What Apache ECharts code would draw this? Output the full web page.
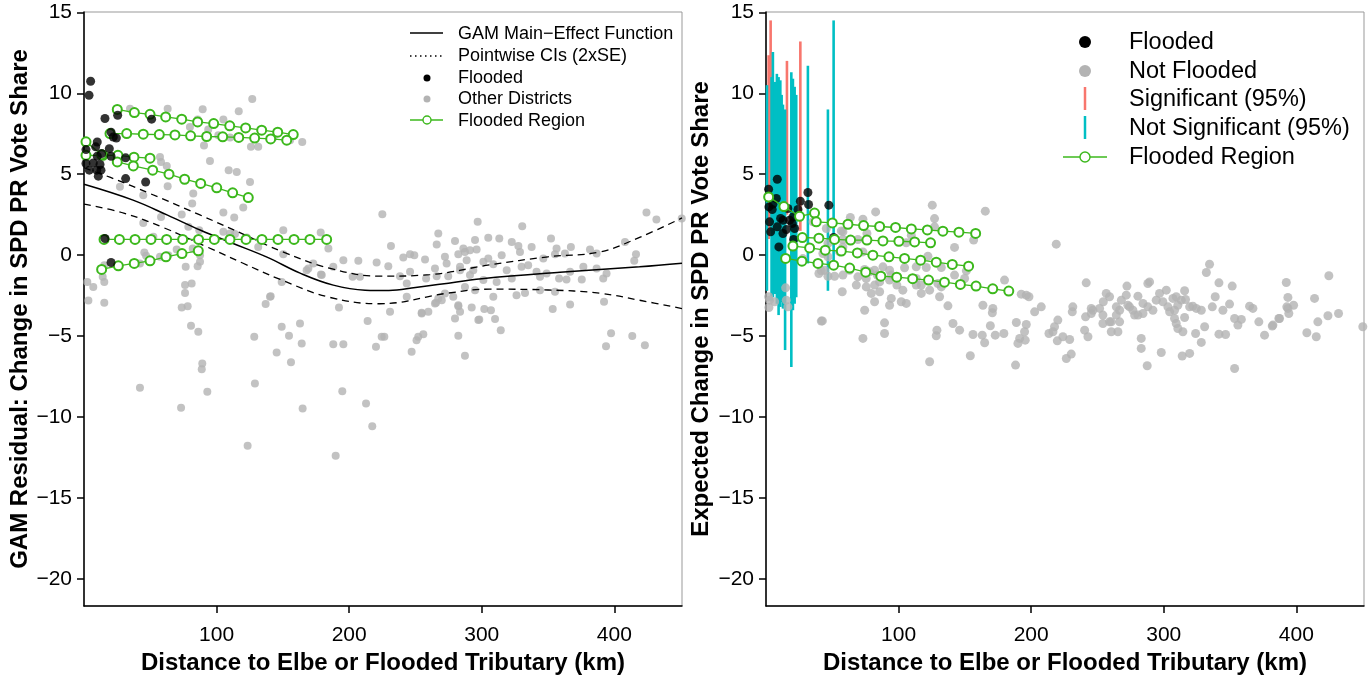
<!DOCTYPE html>
<html lang="en">
<head>
  <meta charset="UTF-8">
  <title>Flooding and SPD vote share</title>
  <style>
    html, body { margin: 0; padding: 0; background: #fff; }
    #main { width: 1371px; height: 676px; }
  </style>
</head>
<body>
  <div id="main"></div>
  <script src="https://cdn.jsdelivr.net/npm/echarts@6.0.0/dist/echarts.min.js"></script>
  <script type="text/javascript">

    var xTicks = [100, 200, 300, 400];
    var yTicks = [-20, -15, -10, -5, 0, 5, 10, 15];

    // left panel: GAM fit and pointwise bands
    var gamX = [0, 37, 63, 88, 112, 138, 163, 188, 212, 230, 250, 270, 300, 359, 419, 451];
    var gamY = [4.38, 3.40, 2.47, 1.54, 0.74, -0.12, -1.11, -1.85, -2.16, -2.18, -2.0, -1.78, -1.45, -1.05, -0.72, -0.50];
    var ciUpX = [0, 20, 50, 87, 120, 150, 185, 223, 261, 306, 350, 389, 419, 451];
    var ciUpY = [5.4, 4.8, 3.8, 2.5, 1.3, 0.2, -0.8, -1.3, -1.2, -0.6, -0.1, 0.2, 1.1, 2.3];
    var ciLoX = [0, 30, 60, 93, 120, 148, 185, 223, 274, 306, 350, 389, 420, 451];
    var ciLoY = [3.15, 2.6, 1.7, 0.5, -0.5, -1.5, -2.6, -3.0, -2.35, -2.1, -2.15, -2.35, -2.8, -3.3];

    var leftOther = [
      [34.7,9.05],[63.1,9.05],[89.5,9.01],[116.7,8.89],[126.9,9.65],[85.7,8.38],[105.1,8.38],[79.9,7.92],
      [93.7,7.76],[101.3,7.41],[110.1,7.27],[142.8,7.27],[155.4,7.10],[164.6,6.99],[90.5,6.77],[125.9,6.69],
      [131.4,6.69],[57.3,6.07],[58.1,5.76],[95.0,5.82],[62.4,5.51],[109.1,5.25],[115.2,5.14],[27.1,4.22],
      [63.1,4.26],[75.6,4.75],[125.2,4.52],[82.4,3.81],[44.7,3.70],[81.6,3.19],[120.1,2.94],[58.1,2.36],
      [73.7,2.51],[105.1,2.64],[113.3,2.33],[44.7,1.99],[78.7,1.75],[86.9,1.54],[52.3,1.13],[110.1,1.34],
      [122.7,1.09],[150.3,1.54],[178.5,1.40],[184.3,0.41],[131.4,0.51],[45.5,0.17],[46.8,-0.04],[57.3,-0.10],
      [63.6,0.0],[69.9,0.35],[82.0,0.41],[87.5,0.0],[87.5,-0.41],[85.7,-0.68],[76.7,-0.72],[42.2,-0.51],
      [15.3,-0.62],[2.5,-1.65],[7.0,-1.96],[15.3,-1.65],[14.1,-1.34],[76.2,-1.85],[81.2,-1.75],[76.2,-2.33],
      [149.1,-1.65],[172.9,-0.51],[188.0,-0.72],[195.6,-0.31],[178.7,-1.19],[167.9,-0.93],[140.8,-2.53],[3.3,-2.8],
      [15.3,-2.94],[73.7,-3.23],[78.2,-3.15],[80.7,-4.36],[86.2,-4.73],[128.4,-5.04],[137.0,-3.02],[149.1,-4.42],
      [154.6,-4.98],[145.3,-6.01],[156.1,-6.62],[162.9,-4.22],[164.2,-5.45],[188.0,-5.51],[195.6,-5.51],[192.3,-3.23],
      [89.2,-6.69],[88.8,-7.04],[42.2,-8.19],[93.0,-8.44],[73.2,-9.43],[128.9,-7.92],[164.9,-9.47],[123.4,-11.77],
      [194.8,-8.40],[189.8,-12.39],[213.9,-4.07],[230.8,-3.50],[254.7,-3.56],[259.7,-3.50],[265.5,-2.94],[269.8,-2.78],
      [282.3,-3.15],[283.6,-3.50],[279.8,-3.91],[292.4,-3.23],[301.9,-3.33],[306.9,-3.40],[298.1,-3.97],[310.0,-3.95],
      [314.3,-4.63],[282.3,-4.98],[287.3,-6.22],[252.1,-5.04],[255.9,-4.88],[247.1,-5.97],[220.2,-5.66],[226.5,-5.04],
      [212.7,-9.16],[217.4,-10.56],[353.5,-3.33],[366.6,-3.04],[392.2,-2.88],[397.5,-4.83],[393.7,-5.62],[413.5,-5.0],
      [423.0,-5.57],[225.0,2.53],[296.9,2.06],[267.2,1.34],[279.8,0.88],[294.9,0.93],[266.0,0.66],[231.5,0.56],
      [286.1,0.41],[291.1,0.31],[245.9,0.06],[240.8,-0.14],[249.1,0.0],[257.2,-0.27],[272.2,-0.10],[282.3,0.06],
      [288.6,-0.31],[206.9,-0.35],[220.7,-0.45],[229.5,-0.68],[273.5,-0.51],[264.7,-0.82],[245.9,-1.03],[238.3,-1.30],
      [258.0,-1.44],[266.0,-1.30],[274.7,-1.30],[283.6,-0.93],[291.1,-1.23],[202.6,-1.34],[208.1,-1.34],[179.3,-1.23],
      [169.2,-0.82],[287.3,-1.96],[294.9,-2.16],[243.4,-1.75],[243.4,-2.57],[272.2,-2.36],[267.2,-2.67],[264.7,-2.98],
      [278.5,-2.57],[282.3,-3.09],[297.4,-4.01],[254.7,-3.60],[140.3,-2.57],[224.5,-5.04],[250.8,-5.25],[105.1,1.44],
      [113.9,1.30],[150.3,0.06],[330.5,1.79],[304.9,1.07],[313.2,1.03],[322.6,0.82],[327.6,0.56],[328.8,0.20],
      [337.6,0.51],[352.2,1.03],[355.2,0.06],[362.7,0.10],[367.2,0.51],[381.6,0.35],[386.6,0.10],[408.0,0.82],
      [416.3,0.06],[415.0,-0.35],[424.2,2.64],[431.7,2.20],[450.8,2.26],[287.3,0.20],[296.1,0.35],[283.6,-0.72],
      [293.6,-0.93],[301.2,-0.41],[304.9,-0.20],[308.7,-0.56],[315.0,0.0],[318.8,-0.93],[322.6,-1.44],[311.2,-1.65],
      [301.2,-1.54],[330.0,-0.72],[335.0,-0.62],[341.3,-1.03],[343.9,-1.34],[346.4,-0.21],[348.9,-1.13],[358.3,-1.44],
      [363.9,-1.50],[366.6,-1.03],[375.4,-1.50],[386.6,-0.82],[391.6,-1.44],[394.1,-1.13],[343.9,-2.16],[355.2,-2.26],
      [326.2,-2.47],[332.6,-2.33],[308.7,-2.57],[356.4,0.41],[376.6,-0.72]
    ];

    var leftFlooded = [
      [5.0,10.74],[3.8,9.88],[15.8,8.44],[25.4,8.64],[51.0,8.40],[20.4,7.59],[22.1,7.30],[24.4,7.24],
      [10.0,6.99],[8.8,6.69],[1.5,6.52],[19.1,6.58],[13.3,6.28],[10.0,6.11],[20.4,6.11],[31.4,6.01],
      [1.5,5.66],[7.0,5.70],[12.1,5.60],[4.0,5.25],[9.6,5.25],[12.8,5.25],[10.8,4.88],[31.4,4.73],
      [46.5,4.52],[15.8,1.03],[20.4,-0.45]
    ];

    // left panel: flooded regions
    var regAX = [25.1, 38.0, 49.8, 61.6, 73.7, 85.7, 97.8, 109.9, 121.9, 134.0, 146.1, 157.8];
    var regAY = [9.0, 8.81, 8.70, 8.54, 8.40, 8.23, 8.13, 7.99, 7.86, 7.72, 7.60, 7.45];
    var regBX = [19.6, 32.2, 44.7, 56.8, 68.6, 80.4, 92.5, 104.6, 116.7, 128.7, 140.8, 152.9];
    var regBY = [7.51, 7.51, 7.47, 7.45, 7.43, 7.37, 7.33, 7.31, 7.27, 7.23, 7.18, 7.10];
    var regCX = [1.5, 14.3, 25.6, 37.7, 49.8];
    var regCY = [6.17, 6.17, 6.17, 6.05, 5.99];
    var regC2X = [1.5, 13.3];
    var regC2Y = [7.0, 6.2];
    var regDX = [25.1, 37.2, 51.8, 64.1, 75.9, 88.0, 100.1, 112.1, 123.9];
    var regDY = [5.76, 5.51, 5.25, 5.0, 4.69, 4.43, 4.16, 3.85, 3.56];
    var regEX = [15.1, 26.7, 38.5, 50.5, 62.3, 74.4, 86.4, 98.3, 110.1, 122.2, 134.2, 146.3, 158.4, 170.4, 183.0];
    var regEY = [0.97, 0.97, 0.97, 0.97, 0.97, 0.97, 0.97, 0.97, 0.97, 0.97, 0.97, 0.97, 0.97, 0.97, 0.97];
    var regFX = [13.3, 25.9, 37.9, 49.8, 61.8, 73.9, 86.2];
    var regFY = [-0.88, -0.66, -0.51, -0.35, -0.10, 0.10, 0.27];

    // right panel: intervals of the expected change, [x, low, high]
    var sigBars = [[2.0, 1.0, 12.35], [3.5, 1.5, 14.5], [15.8, 2.5, 12.0], [25.9, 1.5, 13.2]];
    var nonSigBars = [
      [0.7, -2.2, 10.5], [4.2, -2.8, 11.0], [5.2, -2.6, 12.55], [6.7, -2.4, 10.7], [8.2, -3.0, 11.2],
      [9.5, -3.7, 11.0], [10.8, -3.2, 10.8], [11.8, -2.9, 9.9], [12.8, -3.3, 9.3], [14.4, -5.86, 9.0],
      [19.1, -6.9, 11.3], [20.3, -3.4, 10.9], [21.6, -3.0, 10.4], [22.8, -2.6, 9.9], [31.6, -0.51, 11.7],
      [46.7, -2.2, 9.0], [51.0, -0.72, 14.5]
    ];

    var rightNotFlooded = [
      [125.4,3.09],[127.1,2.26],[82.7,2.67],[63.6,2.33],[73.1,2.22],[165.4,2.72],[218.9,0.68],[35.4,2.06],
      [45.5,1.65],[58.0,1.44],[76.1,1.34],[105.8,0.76],[142.2,0.48],[156.6,0.93],[58.0,0.51],[73.1,0.20],
      [46.7,-0.10],[27.8,-0.21],[122.1,-0.06],[113.3,-0.72],[120.9,-0.76],[132.2,-0.76],[104.5,-0.78],[88.2,-0.72],
      [81.9,-0.93],[78.1,-1.03],[74.4,-0.88],[41.7,-0.97],[46.7,-1.30],[51.7,-1.30],[58.0,-1.23],[63.0,-0.93],
      [69.3,-1.34],[68.1,-1.85],[75.6,-1.96],[81.9,-1.85],[85.7,-1.65],[85.7,-2.26],[79.4,-2.36],[81.9,-2.88],
      [94.5,-2.67],[93.2,-3.09],[102.0,-2.88],[105.8,-2.98],[113.3,-1.85],[117.1,-2.36],[123.4,-2.16],[130.9,-2.57],
      [137.2,-3.13],[132.2,-1.96],[149.8,-1.44],[179.9,-1.54],[192.5,-2.41],[198.3,-2.57],[163.6,-3.09],[171.1,-3.29],
      [170.7,-3.56],[207.6,-3.19],[202.6,-3.50],[57.5,-2.26],[74.4,-3.40],[41.7,-4.07],[89.4,-4.18],[89.4,-4.84],
      [73.1,-5.14],[128.9,-4.63],[128.4,-4.98],[141.0,-4.22],[146.0,-4.63],[156.1,-4.90],[163.1,-4.94],[164.9,-5.41],
      [169.2,-4.36],[172.9,-4.94],[179.4,-4.84],[188.8,-4.16],[196.3,-4.28],[195.0,-4.73],[191.3,-5.14],[195.5,-5.25],
      [190.0,-5.45],[213.4,-4.84],[217.6,-4.42],[219.7,-5.29],[123.4,-6.58],[154.1,-6.21],[188.2,-6.79],[14.8,-2.02],
      [2.7,-2.78],[6.5,-2.88],[16.5,-3.19],[15.3,-2.78],[2.2,-3.23],[42.5,-4.06],[46.7,0.72],[55.5,0.2],
      [75.6,-1.44],[83.9,-1.23],[94.5,-1.23],[98.7,-1.85],[103.2,-2.16],[113.3,-1.44],[117.1,-1.85],[129.6,-1.75],
      [216.4,-4.73],[220.1,-4.01],[223.9,-5.04],[229.0,-5.21],[230.2,-6.11],[226.5,-6.38],[240.3,-4.63],[242.8,-5.04],
      [231.4,-3.19],[245.3,-3.60],[251.6,-3.29],[259.1,-4.12],[265.4,-4.73],[254.1,-4.22],[283.0,-5.14],[283.0,-5.76],
      [287.5,-6.83],[298.1,-6.01],[313.9,-6.23],[319.5,-6.07],[309.4,-4.22],[314.4,-4.73],[324.0,-4.84],[328.3,-5.39],
      [330.8,-4.42],[346.6,-4.90],[353.4,-7.0],[355.9,-4.32],[371.7,-4.12],[376.0,-4.94],[382.3,-4.32],[387.3,-3.91],
      [393.6,-3.29],[407.9,-4.79],[415.0,-5.04],[416.2,-4.12],[423.8,-3.74],[431.8,-3.60],[450.1,-4.42],[241.5,-1.71],
      [231.0,-3.50],[241.0,-3.81],[245.3,-3.29],[254.4,-2.88],[256.6,-2.36],[259.1,-2.57],[260.4,-4.12],[266.7,-4.12],
      [260.4,-4.73],[264.2,-3.19],[268.0,-2.78],[271.7,-2.47],[272.2,-1.91],[272.9,-3.09],[276.7,-3.40],[280.5,-2.53],
      [280.5,-3.70],[284.3,-2.98],[288.0,-1.75],[289.3,-1.65],[288.0,-3.19],[291.8,-3.40],[296.8,-2.36],[301.9,-2.16],
      [299.3,-2.88],[303.1,-3.19],[306.9,-2.67],[308.1,-3.40],[313.2,-2.78],[315.7,-2.20],[316.4,-2.74],[308.1,-3.91],
      [315.7,-3.85],[310.6,-4.53],[319.5,-3.19],[324.5,-3.29],[328.3,-3.40],[332.1,-1.07],[334.5,-0.56],[336.6,-3.19],
      [338.8,-2.57],[341.6,-1.71],[344.6,-3.40],[349.6,-3.02],[351.6,-1.91],[353.4,-3.91],[358.5,-3.97],[364.7,-3.15],
      [367.2,-3.29],[381.8,-4.38],[386.8,-3.91],[392.4,-1.69],[393.6,-2.61],[392.8,-3.19],[394.3,-3.60],[397.9,-3.09],
      [413.7,-2.67],[424.5,-1.27],[341.6,-4.88],[294.3,-2.78],[304.4,-3.50],[310.6,-3.09],[321.9,-3.15],[309.4,-2.57],
      [284.3,-3.60],[278.0,-3.70],[274.2,-3.19],[266.7,-3.40],[246.5,-3.40],[254.1,-3.70],[264.2,-3.70],[196.3,-2.47],
      [127.1,1.75],[109.6,1.23],[56.8,1.50],[58.0,0.97],[69.3,0.97],[42.9,0.10],[44.2,-0.93],[39.9,-1.13],
      [2.0,-2.57],[93.2,-0.93],[93.2,-1.54],[142.2,-1.23],[151.1,-0.97]
    ];

    var rightFlooded = [
      [1.96,4.07],[8.5,4.69],[2.2,2.98],[4.7,2.82],[7.8,3.50],[5.2,3.15],[14.0,2.94],[16.5,2.88],
      [11.0,2.27],[2.7,2.06],[3.5,1.44],[8.5,1.75],[12.8,1.34],[17.8,2.16],[19.8,1.95],[21.6,1.65],
      [15.3,1.58],[9.7,0.51],[20.8,0.97],[24.1,2.82],[25.9,3.33],[31.6,3.87],[32.1,3.13],[47.4,3.09],
      [51.0,1.09],[20.3,2.36],[12.8,2.16]
    ];

    var regR0X = [2.0, 13.5, 25.3, 36.6];
    var regR0Y = [3.6, 3.0, 2.4, 2.6];
    var regR1X = [37.9, 50.0, 61.8, 73.6, 85.7, 97.7, 109.6, 121.7, 133.4, 145.5, 158.1];
    var regR1Y = [2.06, 1.99, 1.91, 1.83, 1.77, 1.71, 1.62, 1.56, 1.48, 1.42, 1.34];
    var regR2X = [27.4, 39.9, 51.7, 63.8, 76.1, 88.2, 100.2, 112.1, 124.1];
    var regR2Y = [1.09, 1.05, 0.97, 0.93, 0.93, 0.88, 0.86, 0.82, 0.76];
    var regR3X = [20.3, 32.9, 44.7, 56.8, 68.9, 80.6, 92.7, 104.5, 116.6, 128.4, 140.5, 152.8];
    var regR3Y = [0.56, 0.45, 0.31, 0.25, 0.14, 0.0, -0.10, -0.20, -0.31, -0.43, -0.57, -0.68];
    var regR4X = [14.8, 27.1, 39.2, 51.0, 63.1, 75.2, 86.6, 98.6, 110.6, 122.6, 134.6, 146.6, 158.4, 171.0, 183.1];
    var regR4Y = [-0.20, -0.37, -0.51, -0.62, -0.80, -1.05, -1.30, -1.36, -1.45, -1.54, -1.67, -1.81, -1.91, -2.08, -2.22];

    var font = "'Liberation Sans', Arial, Helvetica, sans-serif";
    var green = '#3cb81c';
    var gray = '#b3b3b3';
    var red = '#f8766d';
    var cyan = '#00bfc4';

    function pairs(xs, ys) {
      return xs.map(function (x, i) { return [x, ys[i]]; });
    }

    function makeX(idx) {
      return {
        type: 'value', gridIndex: idx, min: 0, max: 451,
        name: 'Distance to Elbe or Flooded Tributary (km)',
        nameLocation: 'middle', nameGap: 41,
        nameTextStyle: { fontSize: 24, fontWeight: 'bold', color: '#000', fontFamily: font },
        axisLine: { show: true, onZero: false, lineStyle: { color: '#000', width: 1.5 } },
        axisTick: { show: true, length: 7, customValues: xTicks, lineStyle: { color: '#000', width: 1.5 } },
        axisLabel: { customValues: xTicks, fontSize: 21, color: '#000', margin: 19, fontFamily: font },
        splitLine: { show: false }
      };
    }

    function makeY(idx, title, gap) {
      return {
        type: 'value', gridIndex: idx, min: -21.67, max: 15.02,
        name: title, nameLocation: 'middle', nameGap: gap,
        nameTextStyle: { fontSize: 24, fontWeight: 'bold', color: '#000', fontFamily: font },
        axisLine: { show: true, onZero: false, lineStyle: { color: '#000', width: 1.5 } },
        axisTick: { show: true, length: 7, customValues: yTicks, lineStyle: { color: '#000', width: 1.5 } },
        axisLabel: { customValues: yTicks, fontSize: 21, color: '#000', margin: 12, fontFamily: font,
          formatter: function (v) { return String(v).replace('-', '\u2212'); } },
        splitLine: { show: false }
      };
    }

    function region(xs, ys, idx) {
      return {
        type: 'line', xAxisIndex: idx, yAxisIndex: idx, data: pairs(xs, ys),
        symbol: 'emptyCircle', symbolSize: 9, showSymbol: true,
        lineStyle: { color: green, width: 1.3 },
        itemStyle: { color: green, borderWidth: 1.4 },
        z: 4, silent: true
      };
    }

    function renderBar(params, api) {
      var hi = api.coord([api.value(0), api.value(2)]);
      var lo = api.coord([api.value(0), api.value(1)]);
      return {
        type: 'line',
        shape: { x1: hi[0], y1: hi[1], x2: lo[0], y2: lo[1] },
        style: { stroke: api.visual('color'), lineWidth: 2.6 }
      };
    }

    function legendText(x, y, s, size) {
      return { type: 'text', x: x, y: y, style: { text: s, fill: '#000', font: size + 'px ' + font, verticalAlign: 'middle' } };
    }

    var myChart = echarts.init(document.getElementById('main'));

    var option = {
      backgroundColor: '#fff',
      animation: false,
      grid: [
        { left: 84, top: 12, width: 598, height: 594, show: true, borderColor: '#999', borderWidth: 1,
          containLabel: false, outerBoundsMode: 'none' },
        { left: 766, top: 12, width: 598, height: 594, show: true, borderColor: '#999', borderWidth: 1,
          containLabel: false, outerBoundsMode: 'none' }
      ],
      xAxis: [makeX(0), makeX(1)],
      yAxis: [
        makeY(0, 'GAM Residual: Change in SPD PR Vote Share', 51),
        makeY(1, 'Expected Change in SPD PR Vote Share', 53)
      ],
      series: [
        { type: 'scatter', xAxisIndex: 0, yAxisIndex: 0, data: leftOther, symbolSize: 8, itemStyle: { color: gray }, z: 2 },
        { type: 'line', xAxisIndex: 0, yAxisIndex: 0, data: pairs(ciUpX, ciUpY), smooth: 0.4, showSymbol: false,
          lineStyle: { color: '#000', width: 1.3, type: [7, 5] }, z: 3 },
        { type: 'line', xAxisIndex: 0, yAxisIndex: 0, data: pairs(ciLoX, ciLoY), smooth: 0.4, showSymbol: false,
          lineStyle: { color: '#000', width: 1.3, type: [7, 5] }, z: 3 },
        { type: 'line', xAxisIndex: 0, yAxisIndex: 0, data: pairs(gamX, gamY), smooth: 0.4, showSymbol: false,
          lineStyle: { color: '#000', width: 1.5 }, z: 3 },
        region(regAX, regAY, 0),
        region(regBX, regBY, 0),
        region(regCX, regCY, 0),
        region(regC2X, regC2Y, 0),
        region(regDX, regDY, 0),
        region(regEX, regEY, 0),
        region(regFX, regFY, 0),
        { type: 'scatter', xAxisIndex: 0, yAxisIndex: 0, data: leftFlooded, symbolSize: 9, itemStyle: { color: '#000' }, z: 5 },

        { type: 'custom', xAxisIndex: 1, yAxisIndex: 1, data: sigBars, renderItem: renderBar,
          encode: { x: 0, y: [1, 2] }, itemStyle: { color: red }, z: 2 },
        { type: 'custom', xAxisIndex: 1, yAxisIndex: 1, data: nonSigBars, renderItem: renderBar,
          encode: { x: 0, y: [1, 2] }, itemStyle: { color: cyan }, z: 2 },
        { type: 'scatter', xAxisIndex: 1, yAxisIndex: 1, data: rightNotFlooded, symbolSize: 9, itemStyle: { color: gray }, z: 3 },
        { type: 'scatter', xAxisIndex: 1, yAxisIndex: 1, data: rightFlooded, symbolSize: 9, itemStyle: { color: '#000' }, z: 3 },
        region(regR0X, regR0Y, 1),
        region(regR1X, regR1Y, 1),
        region(regR2X, regR2Y, 1),
        region(regR3X, regR3Y, 1),
        region(regR4X, regR4Y, 1)
      ],
      graphic: [
        // left legend
        { type: 'line', shape: { x1: 410, y1: 33, x2: 443, y2: 33 }, style: { stroke: '#000', lineWidth: 1.4 } },
        { type: 'line', shape: { x1: 410, y1: 56, x2: 443, y2: 56 }, style: { stroke: '#000', lineWidth: 1.4, lineDash: [1.5, 3.5] } },
        { type: 'circle', shape: { cx: 427, cy: 78, r: 3.5 }, style: { fill: '#000' } },
        { type: 'circle', shape: { cx: 427, cy: 99, r: 3.5 }, style: { fill: gray } },
        { type: 'line', shape: { x1: 410, y1: 120, x2: 443, y2: 120 }, style: { stroke: green, lineWidth: 1.3 } },
        { type: 'circle', shape: { cx: 427, cy: 120, r: 4 }, style: { fill: '#fff', stroke: green, lineWidth: 1.4 } },
        legendText(458, 34, 'GAM Main\u2212Effect Function', 18),
        legendText(458, 56, 'Pointwise CIs (2xSE)', 18),
        legendText(458, 78, 'Flooded', 18),
        legendText(458, 99, 'Other Districts', 18),
        legendText(458, 121, 'Flooded Region', 18),
        // right legend
        { type: 'circle', shape: { cx: 1085, cy: 42, r: 6 }, style: { fill: '#000' } },
        { type: 'circle', shape: { cx: 1085, cy: 71, r: 6 }, style: { fill: gray } },
        { type: 'line', shape: { x1: 1085, y1: 87, x2: 1085, y2: 110 }, style: { stroke: red, lineWidth: 2.5 } },
        { type: 'line', shape: { x1: 1085, y1: 116, x2: 1085, y2: 139 }, style: { stroke: cyan, lineWidth: 2.5 } },
        { type: 'line', shape: { x1: 1063, y1: 157, x2: 1107, y2: 157 }, style: { stroke: green, lineWidth: 1.3 } },
        { type: 'circle', shape: { cx: 1085, cy: 157, r: 5 }, style: { fill: '#fff', stroke: green, lineWidth: 1.4 } },
        legendText(1129, 43, 'Flooded', 23.5),
        legendText(1129, 72, 'Not Flooded', 23.5),
        legendText(1129, 100, 'Significant (95%)', 23.5),
        legendText(1129, 129, 'Not Significant (95%)', 23.5),
        legendText(1129, 158, 'Flooded Region', 23.5)
      ]
    };

    myChart.setOption(option);
  </script>
</body>
</html>
